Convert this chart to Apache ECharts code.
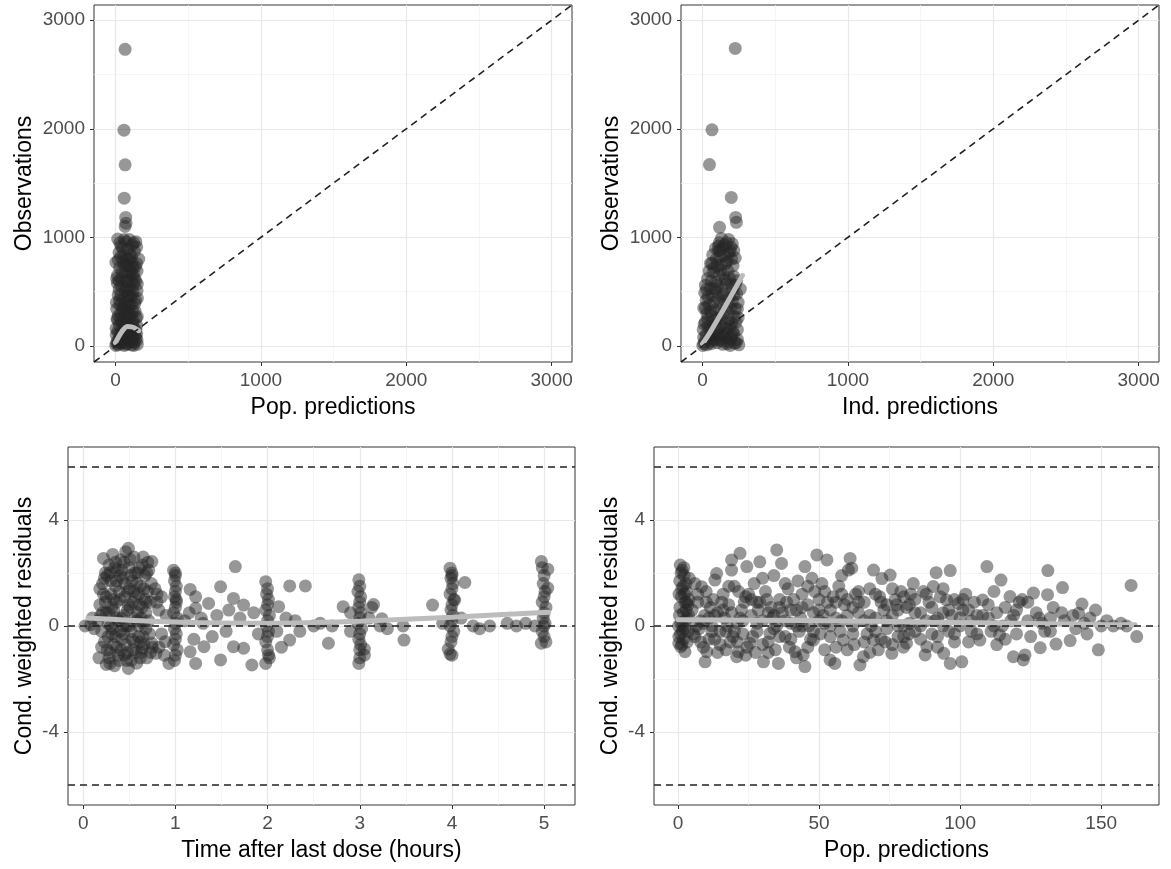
<!DOCTYPE html>
<html>
<head>
<meta charset="utf-8">
<script src="https://cdn.jsdelivr.net/npm/echarts@6/dist/echarts.min.js"></script>
<style>
  html, body { margin: 0; padding: 0; background: #fff; }
  #chart { width: 1171px; height: 869px; }
</style>
</head>
<body>
<div id="chart"></div>
<script>
// Tick values
const obsTicks = [0, 1000, 2000, 3000]
const obsMinor = [500, 1500, 2500]
const tadTicks = [0, 1, 2, 3, 4, 5]
const tadMinor = [0.5, 1.5, 2.5, 3.5, 4.5]
const predTicks = [0, 50, 100, 150]
const predMinor = [25, 75, 125]
const cwresTicks = [-4, 0, 4]
const cwresMinor = [-6, -2, 2, 6]
const cwresRefLines = [-6, 0, 6]

// Pop. predictions vs Observations  [PRED, DV]
const popPredObs = [
  [2, 5], [10, 40], [20, 10], [30, 80], [40, 25], [50, 100], [60, 5], [70, 60], [80, 20], [90, 110],
  [100, 45], [110, 10], [120, 85], [130, 30], [140, 70], [150, 15], [145, 110], [5, 100], [65, 35], [125, 5],
  [4, 160], [14, 240], [26, 190], [38, 300], [50, 150], [62, 260], [74, 210], [86, 330], [98, 170], [110, 280],
  [122, 230], [134, 320], [146, 190], [150, 270], [8, 340], [44, 220], [92, 250], [128, 150],
  [6, 400], [18, 470], [30, 380], [42, 550], [54, 430], [66, 500], [78, 590], [90, 410], [102, 520], [114, 460],
  [126, 570], [138, 420], [148, 510], [12, 580], [60, 360], [110, 380], [140, 600],
  [14, 650], [28, 720], [40, 620], [52, 780], [64, 680], [76, 740], [88, 640], [100, 700], [112, 770], [124, 660],
  [136, 730], [148, 690], [20, 790], [95, 800], [160, 800], [3, 770],
  [24, 860], [38, 920], [55, 840], [70, 960], [85, 890], [100, 850], [115, 930], [130, 870], [145, 910], [60, 980],
  [125, 950], [15, 985],
  [8, 20], [22, 55], [35, 30], [48, 60], [58, 90], [75, 15], [88, 70], [105, 95], [118, 40], [135, 100],
  [148, 55], [15, 130], [33, 120], [55, 200], [68, 130], [82, 180], [104, 120], [116, 200], [140, 150], [20, 280],
  [35, 250], [58, 330], [70, 300], [95, 290], [118, 320], [142, 260], [10, 250], [28, 420], [46, 350], [72, 400],
  [84, 460], [96, 370], [120, 500], [132, 390], [150, 440], [25, 520], [36, 470], [70, 540], [82, 520], [95, 460],
  [110, 600], [130, 620], [150, 570], [8, 620], [24, 600], [46, 680], [60, 740], [80, 600], [108, 660], [120, 720],
  [145, 760], [35, 820], [90, 740], [110, 820], [75, 800], [50, 900], [95, 980], [140, 960], [30, 950],
  [66, 1100], [70, 1184], [72, 1130], [60, 1361], [66, 1668], [58, 1987], [66, 2732]
]

// Ind. predictions vs Observations  [IPRED, DV]
const indPredObs = [
  [2, 5], [15, 40], [30, 10], [45, 70], [60, 20], [80, 90], [100, 30], [120, 60], [140, 15], [160, 80],
  [180, 40], [200, 95], [220, 25], [240, 60], [250, 10], [8, 80], [70, 55], [130, 100], [190, 5],
  [5, 150], [20, 220], [40, 180], [60, 280], [80, 140], [100, 250], [120, 190], [140, 290], [160, 160], [180, 240],
  [200, 210], [220, 270], [240, 150], [245, 260], [30, 300], [90, 200], [170, 120], [210, 130],
  [8, 350], [25, 420], [45, 380], [65, 470], [85, 330], [105, 440], [125, 390], [145, 480], [165, 360], [185, 450],
  [205, 410], [225, 340], [245, 402], [235, 480], [15, 490], [95, 500], [175, 310],
  [20, 560], [35, 620], [55, 530], [75, 680], [95, 590], [115, 650], [135, 540], [155, 610], [175, 690], [195, 570],
  [215, 640], [235, 600], [260, 524], [45, 690], [125, 700], [205, 520],
  [55, 760], [70, 840], [80, 720], [95, 800], [110, 880], [130, 750], [150, 830], [170, 780], [190, 870], [210, 740],
  [225, 810], [90, 900], [140, 900],
  [115, 950], [130, 990], [150, 930], [180, 980], [205, 940], [110, 920],
  [10, 20], [25, 100], [50, 35], [65, 110], [90, 60], [110, 95], [135, 45], [150, 120], [170, 20], [195, 65],
  [215, 110], [232, 30], [12, 200], [35, 250], [50, 150], [70, 220], [110, 160], [130, 260], [150, 210], [190, 180],
  [230, 220], [20, 350], [38, 450], [55, 320], [75, 400], [115, 330], [135, 460], [155, 420], [195, 350], [215, 470],
  [240, 340], [28, 520], [60, 600], [85, 530], [105, 560], [145, 660], [165, 570], [185, 630], [225, 560], [65, 760],
  [100, 740], [120, 820], [160, 760], [180, 850], [200, 800], [215, 880], [120, 880], [165, 950], [195, 910],
  [117, 1092], [233, 1138], [228, 1184], [198, 1368], [48, 1670], [65, 1990], [225, 2740]
]

// Time after last dose vs CWRES  [TAD, CWRES]
const tadCwres = [
  [0.17, -1.2], [0.19, 0.4], [0.21, 1.6], [0.22, 2.55], [0.23, -0.6], [0.24, 0.9], [0.25, -1.45], [0.26, 1.9],
  [0.27, 0.1], [0.28, 2.3], [0.29, -1.0], [0.30, 1.2], [0.31, -0.3], [0.32, 2.7], [0.33, 0.6], [0.34, -1.5],
  [0.35, 1.5], [0.36, -0.8], [0.37, 2.1], [0.38, 0.2], [0.39, -1.3], [0.40, 1.0], [0.41, 2.5], [0.42, -0.5],
  [0.43, 1.8], [0.44, 0.4], [0.45, -1.1], [0.46, 2.8], [0.47, 0.0], [0.48, 1.3], [0.49, -1.6], [0.50, 2.2],
  [0.51, 0.7], [0.52, -0.2], [0.53, 1.7], [0.54, -0.9], [0.55, 2.6], [0.56, 0.3], [0.57, 1.1], [0.58, -1.4],
  [0.59, 2.0], [0.60, -0.4], [0.61, 0.8], [0.62, 1.5], [0.63, -1.0], [0.64, 2.3], [0.65, 0.1], [0.66, -0.7],
  [0.67, 1.9], [0.68, 0.5], [0.69, -1.2], [0.70, 1.3], [0.71, 2.1], [0.72, -0.3], [0.73, 0.9], [0.74, 1.6],
  [0.75, -0.8],
  [0.18, 0.8], [0.20, -0.2], [0.22, 1.2], [0.24, 2.0], [0.26, -0.9], [0.28, 0.5], [0.30, 1.7], [0.32, -0.1],
  [0.34, 2.2], [0.36, 0.9], [0.38, -1.1], [0.40, 1.9], [0.42, 0.3], [0.44, 2.4], [0.46, -0.7], [0.48, 0.6],
  [0.50, 1.4], [0.52, -1.3], [0.54, 0.9], [0.56, 2.0], [0.58, 0.2], [0.60, 1.2], [0.62, -0.6], [0.64, 0.7],
  [0.66, 1.4], [0.68, -0.1], [0.70, 2.4], [0.45, 1.1], [0.35, -0.4], [0.55, -0.6], [0.40, -0.2], [0.50, 0.0],
  [0.30, 0.0], [0.60, 0.0], [0.25, 0.5], [0.65, 2.6],
  [0.16, 0.2], [0.18, 1.4], [0.20, -0.8], [0.21, 0.5], [0.23, 1.8], [0.25, 1.1], [0.27, -0.4], [0.29, 2.0],
  [0.31, 0.7], [0.33, -0.7], [0.35, 2.4], [0.37, 0.3], [0.39, 1.3], [0.41, -0.9], [0.43, 0.0], [0.45, 1.6],
  [0.47, -1.3], [0.49, 0.8], [0.51, 2.5], [0.53, -0.5], [0.55, 1.3], [0.57, -1.0], [0.59, 0.5], [0.61, 2.2],
  [0.63, 0.3], [0.65, -0.4], [0.67, 1.0], [0.69, 2.0], [0.71, 0.2], [0.73, -1.0], [0.36, 1.7], [0.44, -0.3],
  [0.52, 1.9], [0.62, -1.2], [0.28, -1.2], [0.42, 2.1], [0.58, 1.6], [0.48, -1.0], [0.33, 1.0], [0.68, 0.9],
  [0.78, 1.4], [0.80, 0.9], [0.85, 1.1], [0.90, 0.4], [0.82, -0.8], [0.88, -1.1],
  [0.49, 2.93], [0.745, 2.43], [0.80, 1.2], [0.82, 0.6], [0.85, -0.3], [0.79, -1.03], [0.64, -0.84], [0.745, -0.65],
  [0.89, -0.59], [0.93, -1.41], [0.29, -1.41], [0.02, 0.0], [0.08, 0.05], [0.12, -0.1], [0.10, 0.3],
  [0.98, 2.1], [1.00, 1.9], [0.99, 1.7], [1.01, 1.5], [1.00, 1.3], [0.99, 1.1], [1.01, 0.9], [1.00, 0.7],
  [0.98, 0.5], [1.02, 0.3], [1.00, 0.1], [0.99, -0.1], [1.01, -0.3], [1.00, -0.5], [0.98, -0.7], [1.02, -0.9],
  [1.00, -1.1], [0.99, -1.3], [1.00, 2.0], [1.01, 1.0],
  [1.16, 1.38], [1.22, 1.1], [1.22, 0.67], [1.36, 0.85], [1.49, 1.48], [1.63, 1.04], [1.74, 0.79], [1.65, 2.24],
  [1.16, -0.97], [1.22, -1.41], [1.31, -0.78], [1.49, -1.28], [1.63, -0.78], [1.74, -0.84], [1.83, -1.47],
  [1.10, 0.2], [1.30, 0.1], [1.45, 0.4], [1.55, -0.2], [1.70, 0.3], [1.85, 0.5], [1.40, -0.4], [1.20, -0.5],
  [1.15, 0.5], [1.58, 0.6], [1.28, 0.3], [1.90, -0.3],
  [1.98, 1.67], [2.00, 1.4], [1.99, 1.2], [2.01, 1.0], [2.00, 0.8], [1.98, 0.6], [2.02, 0.4], [2.00, 0.2],
  [1.99, 0.0], [2.01, -0.2], [2.00, -0.4], [1.98, -0.6], [2.00, -0.9], [2.01, -1.1], [1.98, -1.41], [2.02, -1.2],
  [2.12, 0.73], [2.24, 1.51], [2.41, 1.51], [2.24, -0.53], [2.10, -0.2], [2.30, 0.2], [2.50, 0.0], [2.57, 0.1],
  [2.66, -0.65], [2.82, 0.73], [2.15, -0.8], [2.35, -0.2], [2.70, 0.0], [2.20, 0.3],
  [2.99, 1.74], [3.00, 1.5], [2.98, 1.3], [3.01, 1.1], [3.00, 0.9], [2.99, 0.7], [3.01, 0.5], [3.00, 0.3],
  [2.98, 0.1], [3.02, -0.1], [3.00, -0.3], [2.99, -0.5], [3.01, -0.7], [3.00, -0.9], [3.05, -0.87], [3.05, -1.1],
  [2.99, -1.41], [3.00, -1.2],
  [3.15, 0.81], [3.13, 0.7], [3.24, 0.27], [3.22, 0.0], [3.47, 0.0], [3.48, -0.53], [3.79, 0.79], [3.10, 0.3],
  [3.30, -0.1], [2.90, -0.2], [2.90, 0.5],
  [3.98, 2.18], [4.00, 2.0], [3.99, 1.8], [4.01, 1.6], [4.00, 1.4], [3.98, 1.2], [4.02, 1.0], [4.00, 0.8],
  [3.99, 0.6], [4.01, 0.4], [4.00, 0.2], [3.98, 0.0], [4.02, -0.2], [4.00, -0.4], [3.99, -0.6], [3.96, -0.87],
  [3.98, -1.06], [4.00, -1.1], [4.00, 1.9],
  [4.14, 1.64], [4.03, 0.98], [4.23, 0.0], [4.41, 0.0], [4.10, 0.3], [4.30, -0.1], [3.90, 0.1], [4.60, 0.1], [4.70, 0.0],
  [4.97, 2.43], [5.04, 2.14], [5.04, 1.43], [4.98, 2.2], [5.00, 1.9], [4.99, 1.6], [5.01, 1.3], [5.00, 1.1],
  [4.98, 0.9], [5.02, 0.7], [5.00, 0.5], [4.99, 0.3], [5.01, 0.1], [5.00, 0.0], [4.98, -0.2], [5.00, -0.4],
  [4.97, -0.65], [5.02, -0.6], [4.80, 0.1], [4.90, 0.0]
]

// Pop. predictions vs CWRES  [PRED, CWRES]
const predCwres = [
  [0.8, 2.3], [1.5, 2.1], [2.2, 1.9], [0.6, 1.7], [1.8, 1.5], [3.0, 1.3], [1.2, 1.1], [2.5, 0.9], [0.7, 0.7],
  [1.9, 0.5], [3.2, 0.3], [1.0, 0.1], [2.4, -0.1], [0.9, -0.3], [2.0, -0.5], [1.4, -0.7], [3.5, 0.8], [2.8, 1.6],
  [1.1, 2.0], [0.4, 1.2], [3.6, -0.2], [2.6, 0.2], [1.7, 0.0], [0.5, 0.4], [3.9, 1.0], [2.1, 2.2], [1.3, 1.4],
  [3.3, -0.6], [0.3, -0.4], [2.9, 0.6], [1.6, -0.2], [0.2, 0.0], [3.8, 0.4], [2.3, 1.2], [1.0, -0.78], [4.0, 1.8],
  [2.5, -0.97], [0.3, -0.65],
  [5, 0.6], [6, -0.4], [7, 1.2], [8, 0.2], [8.4, 1.48], [9, -0.8], [9.6, -1.35], [10, 0.9], [10.2, -0.97],
  [11, 0.3], [12, -0.2], [12.5, 1.0], [13.1, 1.73], [13.7, 1.98], [14, 0.5], [14.9, -0.21], [15, -0.7],
  [6.5, 0.0], [11.5, 0.7], [7.5, -0.1], [13, -0.5], [9.5, 0.4],
  [16, 1.2], [16.5, 0.3], [17, -0.9], [18, 0.8], [19, 2.49], [19, 2.11], [19.5, -0.4], [20, 1.5], [20.8, -1.16],
  [21.4, -0.97], [21, 0.1], [22, 2.74], [22.5, 0.6], [23, -0.3], [24, 1.1], [24.4, 2.24], [24.5, -0.8],
  [25.5, -0.65], [17.5, 0.0], [23.5, 0.9], [18.5, -0.6], [21.5, 1.3],
  [26, 0.4], [27, 1.6], [28, -0.2], [29, 2.42], [29, 0.9], [30.3, -1.35], [30, 0.2], [31, 1.3], [32, -0.6],
  [32.6, -0.28], [33, 0.7], [34, 1.9], [34.5, -0.9], [35, 2.87], [35.6, -1.41], [35, 0.0], [27.5, -1.0],
  [31.5, 1.0], [33.5, 0.3], [28.5, 0.6],
  [36.7, 2.36], [37, 0.5], [38, -0.4], [39, 1.4], [40, 0.1], [41, 1.0], [41.5, -0.97], [42, 0.6], [43, -0.2],
  [44.4, -1.09], [45, 2.24], [45, -1.53], [44, 1.2], [39.5, -0.8], [36, 1.0], [42.5, 1.7], [38.5, 0.9], [43.5, 0.3],
  [46, 0.8], [47, -0.5], [48, -0.53], [48.5, 1.3], [49.2, 2.68], [50, 0.2], [51, 1.6], [52, -0.9], [52.8, 2.49],
  [53.9, -1.28], [54, 0.6], [55.6, -1.41], [55, 1.1], [46.5, 0.0], [50.5, -0.3], [53, 0.9], [47.5, 1.8], [51.5, 0.4],
  [56, 0.3], [57, 1.5], [58.6, -0.53], [59, 0.8], [60.4, 2.11], [61, 2.55], [61.6, 2.18], [62, 0.0], [63, 1.2],
  [64.5, -1.47], [65.7, -1.16], [64, 0.5], [57.5, -0.2], [60, 1.0], [62.5, -0.7], [58, 1.9],
  [66, 0.9], [67, -0.3], [68, 1.4], [69.3, 2.11], [69.3, -0.53], [70, 0.3], [71, -0.9], [72.3, 1.79], [73, 0.6],
  [74, -0.1], [75.2, 1.92], [75.8, -1.03], [68.5, 0.0], [71.5, 1.1], [73.5, -0.6],
  [76, 0.4], [77, 1.0], [78, -0.4], [79, 1.3], [79.9, -0.8], [81, -0.65], [81, 0.7], [82, 0.1], [83.4, 1.6],
  [84, -0.2], [77.5, 0.8], [80, 0.0], [82.5, 1.2],
  [86, 0.5], [87.6, -1.09], [88.2, -0.78], [89, 0.9], [90.5, 1.49], [91.5, 2.01], [91, 0.2], [92, -0.4], [93, 1.1],
  [94.2, -1.03], [95.2, 0.98], [94, 0.0], [87, 1.3],
  [96.5, 2.09], [96.5, -1.41], [97, 0.4], [98, -0.3], [99.4, 0.85], [100.6, -1.35], [101, 0.6], [102, 1.2],
  [103, -0.6], [104, 0.2], [100, 0.0], [105, 0.9],
  [107, -0.53], [108, 0.98], [109.5, 2.24], [110, 0.3], [111, -0.2], [112, 1.3], [113, 0.5], [114, -0.34],
  [114.5, 1.73], [115, 0.0], [106, 0.4],
  [117.7, 1.11], [118.9, -1.16], [119, 0.4], [120, -0.3], [121, 0.9], [122.4, -1.28], [123, -1.09], [124, 0.2],
  [116, 0.7], [122, 1.0],
  [126, 1.24], [127, 0.5], [128.4, -0.82], [129, 0.1], [131, 1.18], [131.1, 2.09], [132, 0.3], [134, -0.68],
  [133, 0.7], [130, -0.2],
  [136.3, 1.45], [137, 0.2], [139, -0.55], [140, 0.4], [142, 0.48], [143.2, 0.83], [141, -0.1], [144, 0.1],
  [146, 0.3], [149, -0.9], [150, 0.0], [152, 0.2], [154.3, 0.0], [157, 0.1], [159, 0.0], [160.6, 1.53], [162.6, -0.4],
  [5.5, -0.3], [7, 0.9], [9, 0.1], [11, -0.5], [13, 0.4], [15.5, 0.9], [17, -0.2], [19, 0.5], [21, -0.6],
  [23, 0.2], [25, 1.2], [26.5, -0.4], [28, 0.9], [30, -0.7], [32, 0.5], [34, -0.1], [36, 0.7], [38, 0.2],
  [40, -0.5], [42, 0.0], [44, 0.7], [46, -0.8], [48, 0.5], [50, 1.0], [52, 0.1], [54, -0.4], [56, 0.9],
  [58, 0.2], [60, -0.9], [62, 0.7], [64, 1.3], [66, -0.6], [68, 0.4], [70, -0.2], [72, 0.9], [74, 0.2],
  [76, -0.7], [78, 0.6], [80, 1.1], [82, -0.3], [84, 0.5], [86, -0.5], [88, 0.2], [90, 0.7], [92, -0.8],
  [94, 0.5], [96, -0.2], [98, 1.0], [100, 0.3], [103, 0.6], [106, -0.3], [110, 0.8], [113, -0.7], [118, 0.2],
  [125, -0.4],
  [3, 0.9], [6, 1.6], [8, -0.6], [10, 1.3], [12, 0.0], [14, -1.0], [16, 0.6], [18, 1.5], [20, -0.2], [22, 0.3],
  [24, -1.1], [26, 1.0], [28, 0.1], [30, 1.8], [32, -1.0], [34, 0.4], [36, -0.4], [38, 1.6], [40, 0.6], [42, -1.2],
  [44, 0.0], [46, 1.5], [48, -0.2], [50, 0.6], [52, 1.3], [54, 0.0], [56, -0.8], [58, 1.2], [60, 0.4], [62, -0.3],
  [64, 0.9], [66, 0.2], [68, -1.0], [70, 1.2], [72, -0.5], [74, 0.8], [76, 1.4], [78, 0.0], [80, -0.4], [82, 0.8],
  [84, 1.0], [86, 0.0], [88, 1.2], [90, -0.3], [92, 0.3], [94, 1.4], [96, 0.6], [98, -0.6], [101, 1.0], [104, -0.2],
  [108, 0.4], [112, 0.0], [116, -0.5], [120, 0.6], [124, 0.9], [128, 0.3], [132, -0.2], [136, 0.5], [145, -0.3],
  [148, 0.6]
]

// Smoothers
const smoothPopPredObs = [[0, 30], [20, 80], [40, 125], [60, 160], [84, 180], [110, 176], [130, 166], [160, 140]]
const smoothIndPredObs = [[0, 20], [50, 120], [100, 235], [150, 350], [200, 470], [250, 590], [275, 650]]
const smoothTadCwres = [[0.05, 0.3], [0.5, 0.22], [1, 0.15], [1.5, 0.11], [2, 0.1], [2.5, 0.13], [3, 0.18],
  [3.5, 0.25], [4, 0.33], [4.5, 0.42], [5.05, 0.52]]
const smoothPredCwres = [[0, 0.24], [30, 0.22], [60, 0.19], [90, 0.14], [120, 0.1], [150, 0.06], [162, 0.05]]

const FONT = '"Liberation Sans", Arial, Helvetica, sans-serif'

const panels = [
  {
    rect: { left: 94, top: 5, width: 478, height: 357 },
    x: [-148, 3140], y: [-148, 3140],
    xTicks: obsTicks, xMinor: obsMinor, yTicks: obsTicks, yMinor: obsMinor,
    xName: 'Pop. predictions', yName: 'Observations', yGap: 58,
    points: popPredObs, smooth: smoothPopPredObs, identity: true,
  },
  {
    rect: { left: 681, top: 5, width: 478, height: 357 },
    x: [-148, 3140], y: [-148, 3140],
    xTicks: obsTicks, xMinor: obsMinor, yTicks: obsTicks, yMinor: obsMinor,
    xName: 'Ind. predictions', yName: 'Observations', yGap: 58,
    points: indPredObs, smooth: smoothIndPredObs, identity: true,
  },
  {
    rect: { left: 68, top: 447, width: 507, height: 358 },
    x: [-0.165, 5.335], y: [-6.75, 6.75],
    xTicks: tadTicks, xMinor: tadMinor, yTicks: cwresTicks, yMinor: cwresMinor,
    xName: 'Time after last dose (hours)', yName: 'Cond. weighted residuals', yGap: 32,
    points: tadCwres, smooth: smoothTadCwres, identity: false,
  },
  {
    rect: { left: 654, top: 447, width: 505, height: 358 },
    x: [-8.5, 170.5], y: [-6.75, 6.75],
    xTicks: predTicks, xMinor: predMinor, yTicks: cwresTicks, yMinor: cwresMinor,
    xName: 'Pop. predictions', yName: 'Cond. weighted residuals', yGap: 32,
    points: predCwres, smooth: smoothPredCwres, identity: false,
  },
]

const axisBase = (i, range, ticks, name, gap) => ({
  type: 'value',
  gridIndex: i,
  min: range[0],
  max: range[1],
  name: name,
  nameLocation: 'middle',
  nameGap: gap,
  nameTextStyle: { color: '#000', fontSize: 23, fontFamily: FONT },
  axisLine: { show: false, onZero: false },
  axisTick: { show: true, length: 4, customValues: ticks, lineStyle: { color: '#333', width: 1 } },
  axisLabel: {
    customValues: ticks, color: '#4d4d4d', fontSize: 19, fontFamily: FONT, margin: 9,
    formatter: (v) => String(v),
  },
  splitLine: { show: false },
})

const grids = []
const xAxes = []
const yAxes = []
const series = []

panels.forEach((p, i) => {
  grids.push({ ...p.rect, show: true, borderColor: '#333', borderWidth: 1, backgroundColor: '#fff', containLabel: false })
  xAxes.push(axisBase(i, p.x, p.xTicks, p.xName, 34))
  yAxes.push(axisBase(i, p.y, p.yTicks, p.yName, p.yGap))

  const vLines = (vals) => vals.map((v) => ({ coords: [[v, p.y[0]], [v, p.y[1]]] }))
  const hLines = (vals) => vals.map((v) => ({ coords: [[p.x[0], v], [p.x[1], v]] }))
  const base = { coordinateSystem: 'cartesian2d', xAxisIndex: i, yAxisIndex: i, silent: true }

  // panel grid
  series.push({ ...base, type: 'lines', z: 1, data: vLines(p.xMinor).concat(hLines(p.yMinor)),
    lineStyle: { color: '#f2f2f2', width: 0.8, opacity: 1 } })
  series.push({ ...base, type: 'lines', z: 1, data: vLines(p.xTicks).concat(hLines(p.yTicks)),
    lineStyle: { color: '#e8e8e8', width: 1.2, opacity: 1 } })

  // observations
  series.push({ ...base, type: 'scatter', z: 10, data: p.points, symbolSize: 13,
    itemStyle: { color: 'rgba(38,38,38,0.6)' } })

  // smoother
  series.push({ ...base, type: 'line', z: 15, data: p.smooth, smooth: true, showSymbol: false,
    lineStyle: { color: '#bcbcbc', width: 5, cap: 'round' } })

  // reference lines
  const refs = p.identity
    ? [{ coords: [[p.x[0], p.y[0]], [p.x[1], p.y[1]]] }]
    : hLines(cwresRefLines)
  series.push({ ...base, type: 'lines', z: 20, data: refs,
    lineStyle: { color: '#222', width: 1.6, type: [7, 5], opacity: 1 } })
})

const chart = echarts.init(document.getElementById('chart'), null, { renderer: 'canvas' })
chart.setOption({
  animation: false,
  backgroundColor: '#fff',
  grid: grids,
  xAxis: xAxes,
  yAxis: yAxes,
  series: series,
})
</script>
</body>
</html>
